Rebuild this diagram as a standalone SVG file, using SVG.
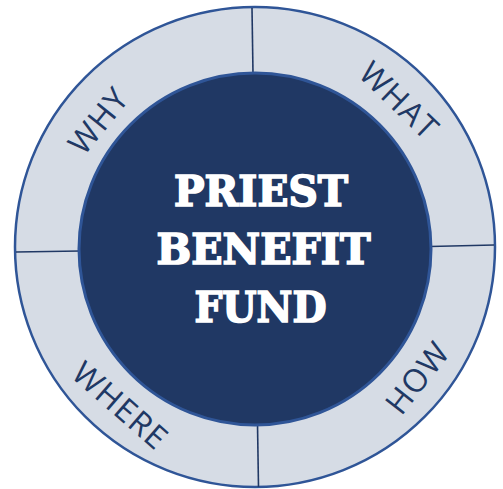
<svg xmlns="http://www.w3.org/2000/svg" width="503" height="489" viewBox="0 0 503 489">
  <style>
    .ring { fill: #D6DCE5; stroke: #2F5597; stroke-width: 2.5; }
    .core { fill: #203864; stroke: #2F5597; stroke-width: 3; }
    .div { stroke: #203864; stroke-width: 1.6; fill: none; }
    .lbl { font-family: "Open Sans", "Liberation Sans", sans-serif; font-weight: 400; font-size: 32px; letter-spacing: 1.2px; fill: #203864; text-anchor: middle; }
    .title { font-family: "DejaVu Serif", "Liberation Serif", serif; font-weight: bold; font-size: 42px; fill: #FFFFFF; stroke: #FFFFFF; stroke-width: 1.7; text-anchor: middle; }
  </style>
  <rect width="503" height="489" fill="#FFFFFF"/>
  <g id="ring">
    <circle class="ring" cx="255" cy="247" r="240"/>
  </g>
  <g id="connectors">
    <line class="div" x1="252" y1="8" x2="253" y2="74"/>
    <line class="div" x1="430" y1="246.5" x2="494" y2="245"/>
    <line class="div" x1="16" y1="252" x2="80" y2="251"/>
    <line class="div" x1="257.5" y1="424" x2="258.5" y2="487"/>
  </g>
  <g id="why">
    <text class="lbl" transform="translate(98,121) rotate(-51)" x="0.6" y="11.5">WHY</text>
  </g>
  <g id="what">
    <text class="lbl" transform="translate(399,100) rotate(44)" x="0.6" y="11.5">WHAT</text>
  </g>
  <g id="how">
    <text class="lbl" transform="translate(417,378) rotate(-52)" x="0.6" y="11.5">HOW</text>
  </g>
  <g id="where">
    <text class="lbl" transform="translate(120,405) rotate(41)" x="0.6" y="11.5">WHERE</text>
  </g>
  <g id="center">
    <circle class="core" cx="255" cy="249" r="176"/>
    <text class="title" x="261" y="206" textLength="174" lengthAdjust="spacingAndGlyphs">PRIEST</text>
    <text class="title" x="263.5" y="264" textLength="214" lengthAdjust="spacingAndGlyphs">BENEFIT</text>
    <text class="title" x="260.5" y="322" textLength="132" lengthAdjust="spacingAndGlyphs">FUND</text>
  </g>
</svg>
